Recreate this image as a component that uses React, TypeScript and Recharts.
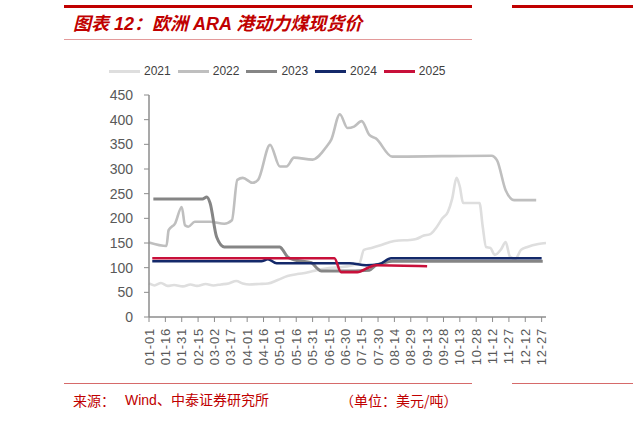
import React from "react";
import { LineChart, Line, XAxis, YAxis, Legend } from "recharts";

// ---- data ----
const tickLabels = [
  "01-01", "01-16", "01-31", "02-15", "03-02", "03-17", "04-01", "04-16", "05-01",
  "05-16", "05-31", "06-15", "06-30", "07-15", "07-30", "08-14", "08-29", "09-13",
  "09-28", "10-13", "10-28", "11-12", "11-27", "12-12", "12-27",
];
const yTicks = [0, 50, 100, 150, 200, 250, 300, 350, 400, 450];
const seriesNames = ["2021", "2022", "2023", "2024", "2025"];
const seriesColors = ["#dedede", "#bfbfbf", "#858585", "#14296a", "#c8103a"];

const s2021: [string, number][] = [
  ["01-01", 68], ["01-06", 64], ["01-12", 69], ["01-18", 63], ["01-24", 65], ["02-01", 62],
  ["02-08", 66], ["02-14", 63], ["02-22", 67], ["03-01", 64], ["03-08", 66], ["03-15", 68],
  ["03-22", 73], ["03-28", 68], ["04-03", 66], ["04-12", 67], ["04-20", 68], ["04-29", 75],
  ["05-08", 83], ["05-17", 87], ["05-26", 90], ["06-04", 95], ["06-15", 99], ["06-25", 101],
  ["07-05", 104], ["07-13", 109], ["07-17", 136], ["07-24", 140], ["08-02", 146], ["08-10", 152],
  ["08-18", 155], ["08-28", 156], ["09-03", 158], ["09-10", 165], ["09-16", 168], ["09-21", 180],
  ["09-27", 200], ["10-02", 213], ["10-06", 240], ["10-10", 282], ["10-13", 264], ["10-16", 231],
  ["10-31", 231], ["11-03", 183], ["11-06", 142], ["11-10", 140], ["11-14", 126], ["11-20", 138],
  ["11-24", 152], ["11-28", 122], ["12-03", 118], ["12-08", 136], ["12-14", 142], ["12-24", 148],
  ["12-31", 150],
];
const s2022: [string, number][] = [
  ["01-01", 151], ["01-17", 144], ["01-19", 176], ["01-25", 190], ["01-31", 223], ["02-03", 186],
  ["02-06", 183], ["02-12", 193], ["02-26", 193], ["03-11", 189], ["03-18", 196], ["03-23", 278],
  ["03-28", 282], ["04-06", 272], ["04-11", 278], ["04-22", 349], ["05-01", 305], ["05-07", 305],
  ["05-14", 323], ["05-31", 319], ["06-13", 346], ["06-17", 359], ["06-25", 411], ["07-02", 383],
  ["07-08", 386], ["07-15", 397], ["07-22", 369], ["07-28", 362], ["08-12", 325], ["11-11", 327],
  ["11-16", 318], ["11-24", 257], ["12-02", 237], ["12-22", 237],
];
const s2023: [string, number][] = [
  ["01-05", 239], ["02-19", 239], ["02-23", 243], ["02-26", 231], ["03-04", 162], ["03-11", 142],
  ["05-01", 142], ["05-03", 138], ["05-08", 122], ["05-14", 116], ["05-30", 110], ["06-04", 99],
  ["06-08", 93], ["06-26", 93], ["07-22", 95], ["07-28", 105], ["08-03", 109], ["08-12", 113],
  ["12-28", 113],
];
const s2024: [string, number][] = [
  ["01-04", 113], ["04-14", 113], ["04-20", 117], ["04-28", 109], ["07-04", 109], ["07-19", 105],
  ["07-31", 107], ["08-11", 119], ["12-27", 119],
];
const s2025: [string, number][] = [
  ["01-04", 119], ["06-20", 119], ["06-26", 91], ["07-11", 91], ["07-22", 101], ["07-28", 105],
  ["09-13", 103],
];

// ---- helpers ----
const MONTH_START = [0, 31, 59, 90, 120, 151, 181, 212, 243, 273, 304, 334];
const dayOf = (md: string) => {
  const [m, d] = md.split("-").map(Number);
  return MONTH_START[m - 1] + d - 1;
};
const toRows = (s: [string, number][]) => s.map(([d, v]) => ({ day: dayOf(d), v }));
const allSeries = [s2021, s2022, s2023, s2024, s2025].map(toRows);
const xTicks = tickLabels.map(dayOf);
const labelOf: Record<number, string> = {};
tickLabels.forEach((l) => (labelOf[dayOf(l)] = l));

const SANS = "'Liberation Sans', Arial, 'Noto Sans CJK SC', sans-serif";
const RED = "#c00000";

const XTick = (props: any) => {
  const { x, y, payload } = props;
  return (
    <text
      x={x}
      y={y}
      transform={`rotate(-90 ${x} ${y})`}
      textAnchor="end"
      dy="0.35em"
      fontSize={13}
      letterSpacing={0.8}
      fill="#595959"
      fontFamily={SANS}
    >
      {labelOf[payload.value]}
    </text>
  );
};

const LegendContent = () => (
  <div style={{ display: "flex", alignItems: "center", fontFamily: SANS, fontSize: 12, color: "#404040" }}>
    {seriesNames.map((n, i) => (
      <div key={n} style={{ display: "flex", alignItems: "center", marginRight: i < 4 ? 7 : 0 }}>
        <div style={{ width: 31, height: 3, background: seriesColors[i], marginRight: 4 }} />
        <span>{n}</span>
      </div>
    ))}
  </div>
);

export default function App() {
  return (
    <div style={{ position: "absolute", left: 0, top: 0, width: 633, height: 422, background: "#fff", overflow: "hidden" }}>
      {/* header decorations */}
      <div style={{ position: "absolute", left: 64, top: 5, width: 408, height: 3, background: RED }} />
      <div style={{ position: "absolute", left: 512, top: 5, width: 121, height: 3, background: RED }} />
      <div
        style={{
          position: "absolute", left: 73, top: 12, fontFamily: SANS, fontSize: 18, fontWeight: 700,
          fontStyle: "italic", color: RED, whiteSpace: "nowrap", lineHeight: "24px",
        }}
      >
        图表 12：欧洲 ARA 港动力煤现货价
      </div>
      <div style={{ position: "absolute", left: 64, top: 39, width: 408, height: 1, background: "#e39a9a" }} />

      <div style={{ position: "absolute", left: 0, top: 0 }}>
        <LineChart width={633} height={422} margin={{ top: 95, right: 87, bottom: 55, left: 109 }}>
          <XAxis
            type="number"
            dataKey="day"
            domain={[0, 364]}
            ticks={xTicks}
            interval={0}
            allowDuplicatedCategory={false}
            height={50}
            tick={<XTick />}
            tickSize={5}
            tickMargin={6}
            axisLine={{ stroke: "#8c8c8c", strokeWidth: 1.5 }}
            tickLine={{ stroke: "#8c8c8c", strokeWidth: 1 }}
          />
          <YAxis
            type="number"
            domain={[0, 450]}
            ticks={yTicks}
            interval={0}
            width={40}
            tickSize={5}
            tickMargin={11}
            tick={{ fontSize: 14, fill: "#595959", fontFamily: SANS }}
            axisLine={{ stroke: "#8c8c8c", strokeWidth: 1.5 }}
            tickLine={{ stroke: "#8c8c8c", strokeWidth: 1 }}
          />
          <Legend
            layout="horizontal"
            verticalAlign="middle"
            align="center"
            content={<LegendContent />}
            wrapperStyle={{ position: "absolute", left: 109, top: 64, width: 340, height: 16 }}
          />
          {allSeries.map((rows, i) => (
            <Line
              key={seriesNames[i]}
              name={seriesNames[i]}
              data={rows}
              dataKey="v"
              type="monotone"
              dot={false}
              activeDot={false}
              stroke={seriesColors[i]}
              strokeWidth={i === 2 ? 3 : 2.6}
              isAnimationActive={false}
            />
          ))}
        </LineChart>
      </div>

      {/* footer */}
      <div style={{ position: "absolute", left: 64, top: 383, width: 408, height: 1, background: "#d66a6a" }} />
      <div style={{ position: "absolute", left: 512, top: 383, width: 121, height: 1, background: "#d66a6a" }} />
      <div style={{ position: "absolute", left: 73, top: 391, fontFamily: "'Noto Sans CJK SC', sans-serif", fontSize: 14, color: RED, whiteSpace: "nowrap", lineHeight: "18px" }}>
        来源：
      </div>
      <div style={{ position: "absolute", left: 125, top: 391, fontFamily: "'Liberation Sans', 'Noto Sans CJK SC', sans-serif", fontSize: 14, color: RED, whiteSpace: "nowrap", lineHeight: "18px" }}>
        Wind、中泰证券研究所
      </div>
      <div style={{ position: "absolute", left: 340, top: 391, fontFamily: "'Noto Sans CJK SC', sans-serif", fontSize: 14, color: RED, whiteSpace: "nowrap", lineHeight: "18px" }}>
        （单位：美元/吨）
      </div>
    </div>
  );
}
